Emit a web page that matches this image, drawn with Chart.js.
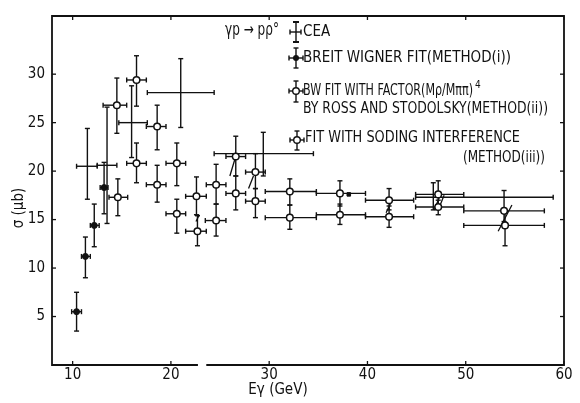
<!DOCTYPE html>
<html>
<head>
<meta charset="utf-8">
<script src="https://cdn.jsdelivr.net/npm/chart.js@4.4.1/dist/chart.umd.min.js"></script>
<style>
  html, body { margin: 0; padding: 0; background: #fff; }
  canvas { display: block; }
</style>
</head>
<body>
<canvas id="rhoChart" width="580" height="403"></canvas>
<script>
// gamma p -> p rho0 cross section vs photon energy
var xTicks = [10, 20, 30, 40, 50, 60];
var yTicks = [5, 10, 15, 20, 25, 30];

// CEA points (plain crosses)
var ceaE     = [11.5, 13.5, 16.0, 21.0, 29.4, 46.7];
var ceaSigma = [20.5, 20.6, 25.0, 28.1, 21.8, 17.3];
var ceaLo    = [17.1, 14.6, 21.4, 24.5, 19.5, 16.0];
var ceaHi    = [24.4, 26.6, 28.8, 31.6, 24.0, 18.8];
var ceaEmin  = [10.4, 12.5, 14.7, 17.6, 24.4, 44.9];
var ceaEmax  = [12.5, 14.5, 17.6, 24.4, 34.5, 58.9];

// Breit Wigner fit, method (i)
var bwE     = [10.4, 11.3, 12.2, 13.2, 38.1];
var bwSigma = [5.5, 11.2, 14.4, 18.3, 17.6];
var bwLo    = [3.5, 9.0, 12.2, 15.6, 17.6];
var bwHi    = [7.5, 13.2, 16.6, 20.9, 17.6];
var bwEmin  = [9.9, 10.9, 11.8, 12.8, 38.1];
var bwEmax  = [10.9, 11.8, 12.7, 13.6, 38.1];

// BW with (Mrho/Mpipi)^4 factor, Ross & Stodolsky, method (ii)
var rsE     = [14.5, 16.5, 18.6, 20.6, 22.6, 24.6, 26.6, 28.6, 32.1, 37.2, 42.2, 47.2, 53.9];
var rsSigma = [26.8, 29.4, 24.6, 20.8, 17.4, 18.6, 21.5, 19.9, 17.9, 17.7, 17.0, 17.6, 15.9];
var rsLo    = [23.9, 26.7, 22.2, 18.5, 15.5, 16.6, 19.5, 18.2, 16.5, 16.4, 16.0, 16.4, 14.8];
var rsHi    = [29.6, 31.9, 26.8, 22.9, 19.4, 20.7, 23.6, 21.8, 19.2, 19.0, 18.2, 19.0, 18.0];
var rsEmin  = [13.1, 15.5, 17.5, 19.5, 21.5, 23.6, 25.6, 27.6, 29.6, 34.8, 39.8, 44.9, 49.8];
var rsEmax  = [15.5, 17.5, 19.5, 21.5, 23.6, 25.6, 27.6, 29.6, 34.8, 39.8, 44.7, 49.8, 58.0];

// Soding interference fit, method (iii)
var sdE     = [14.6, 16.5, 18.6, 20.6, 22.7, 24.6, 26.6, 28.6, 32.1, 37.2, 42.2, 47.2, 54.0];
var sdSigma = [17.3, 20.8, 18.6, 15.6, 13.8, 14.9, 17.7, 16.9, 15.2, 15.5, 15.3, 16.3, 14.4];
var sdLo    = [15.4, 18.8, 16.8, 13.6, 12.3, 13.3, 16.0, 15.2, 14.0, 14.5, 14.2, 15.5, 12.3];
var sdHi    = [19.2, 22.9, 20.6, 17.1, 15.4, 16.6, 19.5, 18.2, 16.5, 16.6, 16.4, 17.0, 15.8];
var sdEmin  = [13.7, 15.5, 17.5, 19.5, 21.5, 23.5, 25.6, 27.6, 29.6, 34.8, 39.8, 44.9, 49.8];
var sdEmax  = [15.6, 17.5, 19.5, 21.5, 23.6, 25.6, 27.6, 29.6, 34.8, 39.8, 44.7, 49.8, 58.0];

// slanted links between paired points
var linkE0 = [22.9, 26.5, 28.4, 42.4, 47.4, 47.8, 54.7];
var linkS0 = [15.5, 21.2, 19.5, 16.8, 17.5, 17.5, 16.5];
var linkE1 = [22.55, 26.0, 27.9, 41.9, 46.8, 47.2, 53.3];
var linkS1 = [14.8, 19.5, 18.2, 15.7, 16.0, 16.0, 13.8];

var narrow = "'Liberation Sans Narrow', 'DejaVu Sans Condensed', 'Liberation Sans', sans-serif";

function pts(xs, ys) {
  var out = [];
  for (var i = 0; i < xs.length; i++) out.push({x: xs[i], y: ys[i]});
  return out;
}

var linkData = [];
for (var i = 0; i < linkE0.length; i++) {
  linkData.push({x: linkE0[i], y: linkS0[i]});
  linkData.push({x: linkE1[i], y: linkS1[i]});
  linkData.push({x: null, y: null});
}

function capLine(ctx, x1, y1, x2, y2) {
  ctx.beginPath();
  ctx.moveTo(x1, y1);
  ctx.lineTo(x2, y2);
  ctx.stroke();
}

// draws a cross: vertical lo..hi, horizontal emin..emax, with end caps
function drawCross(ctx, xc, yc, yTop, yBot, xL, xR, cap) {
  if (yTop != yBot) {
    capLine(ctx, xc, yTop, xc, yBot);
    capLine(ctx, xc - cap, yTop, xc + cap, yTop);
    capLine(ctx, xc - cap, yBot, xc + cap, yBot);
  }
  if (xL != xR) {
    capLine(ctx, xL, yc, xR, yc);
    capLine(ctx, xL, yc - cap, xL, yc + cap);
    capLine(ctx, xR, yc - cap, xR, yc + cap);
  }
}

var errorBars = {
  id: 'errorBars',
  beforeDatasetsDraw: function(chart) {
    var ctx = chart.ctx;
    var xs = chart.scales.x, ys = chart.scales.y;
    ctx.save();
    ctx.strokeStyle = '#111';
    ctx.lineWidth = 1.4;
    chart.data.datasets.forEach(function(ds) {
      if (!ds.bars) return;
      var b = ds.bars;
      for (var i = 0; i < b.e.length; i++) {
        drawCross(ctx,
          xs.getPixelForValue(b.e[i]), ys.getPixelForValue(b.s[i]),
          ys.getPixelForValue(b.hi[i]), ys.getPixelForValue(b.lo[i]),
          xs.getPixelForValue(b.emin[i]), xs.getPixelForValue(b.emax[i]), 2.5);
      }
    });
    ctx.restore();
  }
};

var frameAndText = {
  id: 'frameAndText',
  afterDraw: function(chart) {
    var ctx = chart.ctx;
    var a = chart.chartArea;
    var xs = chart.scales.x, ys = chart.scales.y;
    ctx.save();
    ctx.strokeStyle = '#111';
    ctx.lineWidth = 1.8;
    // frame, bottom edge broken near 23 GeV
    var g0 = xs.getPixelForValue(22.75), g1 = xs.getPixelForValue(23.6);
    ctx.beginPath();
    ctx.moveTo(g0, a.bottom);
    ctx.lineTo(a.left, a.bottom);
    ctx.lineTo(a.left, a.top);
    ctx.lineTo(a.right, a.top);
    ctx.lineTo(a.right, a.bottom);
    ctx.lineTo(g1, a.bottom);
    ctx.stroke();

    // inward ticks
    ctx.lineWidth = 1.3;
    xTicks.forEach(function(v) {
      var x = xs.getPixelForValue(v);
      capLine(ctx, x, a.bottom, x, a.bottom - 4);
      capLine(ctx, x, a.top, x, a.top + 4);
    });
    yTicks.forEach(function(v) {
      var y = ys.getPixelForValue(v);
      capLine(ctx, a.left, y, a.left + 4, y);
      capLine(ctx, a.right, y, a.right - 4, y);
    });

    // legend markers
    ctx.lineWidth = 1.4;
    drawCross(ctx, 296, 32, 22, 42, 290, 301, 2.5);
    ctx.lineWidth = 2;
    capLine(ctx, 293, 22, 299, 22);
    capLine(ctx, 293, 42, 299, 42);
    ctx.lineWidth = 1.4;
    drawCross(ctx, 296, 58, 48, 68, 289, 303, 2.5);
    drawCross(ctx, 296, 91, 81, 102, 289, 303, 2.5);
    drawCross(ctx, 297, 140, 131, 150, 290, 304, 2.5);
    ctx.fillStyle = '#111';
    ctx.beginPath(); ctx.arc(296, 58, 3, 0, Math.PI * 2); ctx.fill();
    [[296, 91], [297, 140]].forEach(function(p) {
      ctx.beginPath(); ctx.arc(p[0], p[1], 3.3, 0, Math.PI * 2);
      ctx.fillStyle = '#fff'; ctx.fill(); ctx.stroke();
    });

    // legend text
    ctx.fillStyle = '#111';
    ctx.textBaseline = 'middle';
    ctx.textAlign = 'left';
    ctx.font = '17px ' + narrow;
    ctx.fillText('γp → pρ°', 225, 31, 54);
    ctx.font = '15px ' + narrow;
    ctx.fillText('CEA', 303, 32, 28);
    ctx.fillText('BREIT WIGNER FIT(METHOD(i))', 303, 58, 210);
    ctx.fillText('BW FIT WITH FACTOR(Mρ/Mππ)', 303, 91, 170);
    ctx.font = '10px ' + narrow;
    ctx.fillText('4', 475, 85);
    ctx.font = '15px ' + narrow;
    ctx.fillText('BY ROSS AND STODOLSKY(METHOD(ii))', 303, 109, 245);
    ctx.fillText('FIT WITH SODING INTERFERENCE', 305, 138, 215);
    ctx.fillText('(METHOD(iii))', 463, 158, 82);

    // axis titles
    ctx.font = '15px ' + narrow;
    ctx.textAlign = 'center';
    ctx.fillText('Eγ (GeV)', 278, 390, 62);
    ctx.translate(19, 208);
    ctx.rotate(-Math.PI / 2);
    ctx.fillText('σ (μb)', 0, 0, 52);
    ctx.restore();
  }
};

var ctx = document.getElementById('rhoChart').getContext('2d');
var rhoChart = new Chart(ctx, {
  type: 'scatter',
  data: {
    datasets: [
      {
        label: 'CEA',
        data: pts(ceaE, ceaSigma),
        pointRadius: 0,
        bars: {e: ceaE, s: ceaSigma, lo: ceaLo, hi: ceaHi, emin: ceaEmin, emax: ceaEmax}
      },
      {
        label: 'BREIT WIGNER FIT(METHOD(i))',
        data: pts(bwE, bwSigma),
        pointStyle: ['circle', 'circle', 'circle', 'circle', 'rect'],
        pointRadius: [3, 3, 3, 3, 2.5],
        pointBackgroundColor: '#111',
        pointBorderColor: '#111',
        pointBorderWidth: 1,
        bars: {e: bwE, s: bwSigma, lo: bwLo, hi: bwHi, emin: bwEmin, emax: bwEmax}
      },
      {
        label: 'BW FIT WITH FACTOR (METHOD(ii))',
        data: pts(rsE, rsSigma),
        pointRadius: 3.3,
        pointBackgroundColor: '#fff',
        pointBorderColor: '#111',
        pointBorderWidth: 1.5,
        bars: {e: rsE, s: rsSigma, lo: rsLo, hi: rsHi, emin: rsEmin, emax: rsEmax}
      },
      {
        label: 'FIT WITH SODING INTERFERENCE (METHOD(iii))',
        data: pts(sdE, sdSigma),
        pointRadius: 3.3,
        pointBackgroundColor: '#fff',
        pointBorderColor: '#111',
        pointBorderWidth: 1.5,
        bars: {e: sdE, s: sdSigma, lo: sdLo, hi: sdHi, emin: sdEmin, emax: sdEmax}
      },
      {
        type: 'line',
        label: 'links',
        data: linkData,
        showLine: true,
        spanGaps: false,
        borderColor: '#111',
        borderWidth: 1.3,
        pointRadius: 0
      }
    ]
  },
  options: {
    responsive: false,
    animation: false,
    layout: { padding: { top: 5, right: 16, left: 0, bottom: 0 } },
    plugins: {
      legend: { display: false },
      tooltip: { enabled: false }
    },
    scales: {
      x: {
        type: 'linear',
        min: 7.9,
        max: 60,
        afterBuildTicks: function(scale) {
          scale.ticks = xTicks.map(function(v) { return {value: v}; });
        },
        afterFit: function(scale) { scale.height = 38; },
        grid: { display: false, drawTicks: false },
        border: { display: false },
        ticks: { color: '#111', padding: 1, maxRotation: 0, font: { family: narrow, size: 15 } }
      },
      y: {
        type: 'linear',
        min: 0,
        max: 36,
        afterBuildTicks: function(scale) {
          scale.ticks = yTicks.map(function(v) { return {value: v}; });
        },
        afterFit: function(scale) { scale.width = 52; },
        grid: { display: false, drawTicks: false },
        border: { display: false },
        ticks: { color: '#111', padding: 7, font: { family: narrow, size: 15 } }
      }
    }
  },
  plugins: [errorBars, frameAndText]
});
</script>
</body>
</html>
